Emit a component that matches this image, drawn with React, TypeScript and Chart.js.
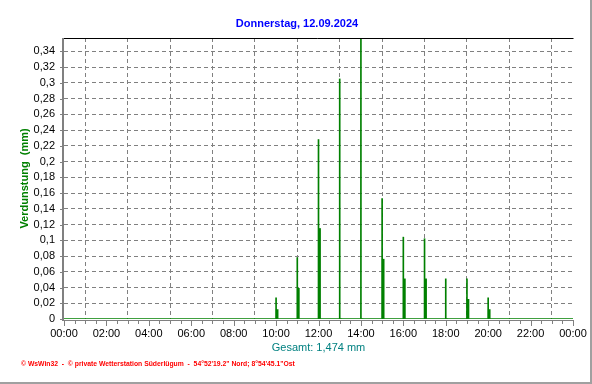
import React, { useEffect, useRef } from 'react';
import { Chart, registerables } from 'chart.js';

Chart.register(...registerables);

// ---- Data ----
const TITLE = 'Donnerstag, 12.09.2024';
const Y_TITLE = 'Verdunstung  (mm)';
const TOTAL_LABEL = 'Gesamt: 1,474 mm';
const FOOTER = '\u00A9 WsWin32  -  \u00A9 private Wetterstation S\u00FCderl\u00FCgum  -  54\u00B052\'19.2" Nord; 8\u00B054\'45.1"Ost';

const hourTimes = ['10:00', '11:00', '12:00', '13:00', '14:00', '15:00', '16:00', '17:00', '18:00', '19:00', '20:00'];
const hourValues = [0.027, 0.078, 0.228, 0.305, 0.357, 0.153, 0.104, 0.102, 0.051, 0.051, 0.027];
const subTimes = ['10:03', '11:03', '12:03', '13:03', '14:03', '15:03', '16:03', '17:03', '18:03', '19:03', '20:03'];
const subValues = [0.012, 0.039, 0.115, 0, 0, 0.076, 0.051, 0.051, 0, 0.025, 0.012];
const xTickLabels = ['00:00', '02:00', '04:00', '06:00', '08:00', '10:00', '12:00', '14:00', '16:00', '18:00', '20:00', '22:00', '00:00'];
const Y_MAX = 0.357;
const Y_STEP = 0.02;

const toMin = (t: string) => {
  const [h, m] = t.split(':').map(Number);
  return h * 60 + m;
};

const GREEN = '#008000';
const GRID = '#808080';
const FONT = '"Liberation Sans", Arial, sans-serif';

const decor = {
  id: 'decor',
  beforeDraw(chart: any) {
    const { ctx, width, height } = chart;
    ctx.save();
    ctx.fillStyle = '#ffffff';
    ctx.fillRect(0, 0, width, height);
    ctx.restore();
  },
  afterDraw(chart: any) {
    const { ctx, chartArea: a, scales } = chart;
    const xs = scales.x;
    const ys = scales.y;
    ctx.save();
    // top border
    ctx.strokeStyle = '#000000';
    ctx.lineWidth = 1;
    ctx.beginPath();
    ctx.moveTo(a.left - 2, a.top + 0.5);
    ctx.lineTo(a.right + 0.5, a.top + 0.5);
    ctx.stroke();
    // left axis
    ctx.strokeStyle = GRID;
    ctx.lineWidth = 2;
    ctx.beginPath();
    ctx.moveTo(a.left - 1, a.top);
    ctx.lineTo(a.left - 1, a.bottom + 2);
    ctx.stroke();
    // y ticks
    ctx.lineWidth = 1;
    for (let v = 0; v <= Y_MAX + 1e-9; v += Y_STEP) {
      const y = Math.round(ys.getPixelForValue(v)) + 0.5;
      ctx.beginPath();
      ctx.moveTo(a.left - 4, y);
      ctx.lineTo(a.left - 2, y);
      ctx.stroke();
    }
    // bottom axis
    ctx.beginPath();
    ctx.moveTo(a.left - 2, a.bottom + 1.5);
    ctx.lineTo(a.right + 1, a.bottom + 1.5);
    ctx.stroke();
    for (let m = 0; m <= 1440; m += 30) {
      const x = Math.round(xs.getPixelForValue(m)) + 0.5;
      ctx.beginPath();
      ctx.moveTo(x, a.bottom + 2);
      ctx.lineTo(x, a.bottom + (m % 120 === 0 ? 7 : 5));
      ctx.stroke();
    }
    // texts
    ctx.textAlign = 'center';
    ctx.textBaseline = 'middle';
    ctx.fillStyle = '#0000ff';
    ctx.font = 'bold 11px ' + FONT;
    ctx.fillText(TITLE, 297, 24);

    ctx.fillStyle = '#008080';
    ctx.font = '11px ' + FONT;
    ctx.fillText(TOTAL_LABEL, (a.left + a.right) / 2, 348);

    ctx.save();
    ctx.translate(25, (a.top + a.bottom) / 2);
    ctx.rotate(-Math.PI / 2);
    ctx.fillStyle = GREEN;
    ctx.font = 'bold 11px ' + FONT;
    ctx.fillText(Y_TITLE, 0, 0);
    ctx.restore();

    ctx.textAlign = 'left';
    ctx.fillStyle = '#ff0000';
    ctx.font = 'bold 6.8px ' + FONT;
    ctx.fillText(FOOTER, 21, 364);

    // frame
    ctx.strokeStyle = '#a0a0a0';
    ctx.lineWidth = 2;
    ctx.beginPath();
    ctx.moveTo(591, 0);
    ctx.lineTo(591, 383);
    ctx.lineTo(0, 383);
    ctx.stroke();
    ctx.restore();
  },
};

export default function App() {
  const ref = useRef<HTMLCanvasElement | null>(null);

  useEffect(() => {
    if (!ref.current) return;
    const chart = new Chart(ref.current, {
      type: 'bar',
      data: {
        datasets: [
          {
            type: 'line',
            label: 'base',
            data: [
              { x: 0, y: 0 },
              { x: 1440, y: 0 },
            ],
            borderColor: GREEN,
            borderWidth: 1.5,
            pointRadius: 0,
            order: 3,
          } as any,
          {
            label: 'Verdunstung',
            data: hourTimes.map((t, i) => ({ x: toMin(t), y: hourValues[i] })),
            backgroundColor: GREEN,
            barThickness: 1,
            grouped: false,
            order: 2,
          } as any,
          {
            label: 'Verdunstung2',
            data: subTimes.map((t, i) => ({ x: toMin(t), y: subValues[i] })),
            backgroundColor: GREEN,
            barThickness: 2,
            grouped: false,
            order: 1,
          } as any,
        ],
      },
      options: {
        responsive: false,
        animation: false,
        layout: { padding: { left: 0, right: 19, top: 38, bottom: 0 } },
        plugins: {
          legend: { display: false },
          title: { display: false },
          tooltip: { enabled: false },
        },
        scales: {
          x: {
            type: 'linear',
            offset: false,
            min: 0,
            max: 1440,
            afterFit: (s: any) => {
              s.height = 65;
              s.paddingLeft = 0;
              s.paddingRight = 0;
            },
            ticks: {
              stepSize: 120,
              autoSkip: false,
              maxRotation: 0,
              padding: 8,
              color: '#000000',
              font: { family: FONT, size: 11 },
              callback: (v: any) => xTickLabels[Math.round(Number(v) / 120)] ?? '',
            },
            grid: {
              drawTicks: false,
              lineWidth: 1,
              color: (c: any) => (c.tick && c.tick.value === 0 ? 'rgba(0,0,0,0)' : GRID),
            },
            border: { display: false, dash: [4, 3] },
          },
          y: {
            type: 'linear',
            min: 0,
            max: Y_MAX,
            afterFit: (s: any) => {
              s.width = 64;
              s.paddingTop = 0;
              s.paddingBottom = 0;
            },
            ticks: {
              stepSize: Y_STEP,
              autoSkip: false,
              padding: 9,
              color: '#000000',
              font: { family: FONT, size: 11 },
              callback: (v: any) => {
                const n = Number(v);
                const k = n / Y_STEP;
                if (Math.abs(k - Math.round(k)) > 1e-6) return '';
                return parseFloat(n.toFixed(2)).toString().replace('.', ',');
              },
            },
            grid: {
              drawTicks: false,
              lineWidth: 1,
              color: (c: any) => {
                const v = c.tick ? c.tick.value : 0;
                const k = v / Y_STEP;
                if (v === 0 || Math.abs(k - Math.round(k)) > 1e-6) return 'rgba(0,0,0,0)';
                return GRID;
              },
            },
            border: { display: false, dash: [4, 3] },
          },
        },
      },
      plugins: [decor],
    });
    return () => chart.destroy();
  }, []);

  return (
    <div style={{ position: 'fixed', left: 0, top: 0, width: 592, height: 384, background: '#fff' }}>
      <canvas ref={ref} width={592} height={384} style={{ display: 'block' }} />
    </div>
  );
}
